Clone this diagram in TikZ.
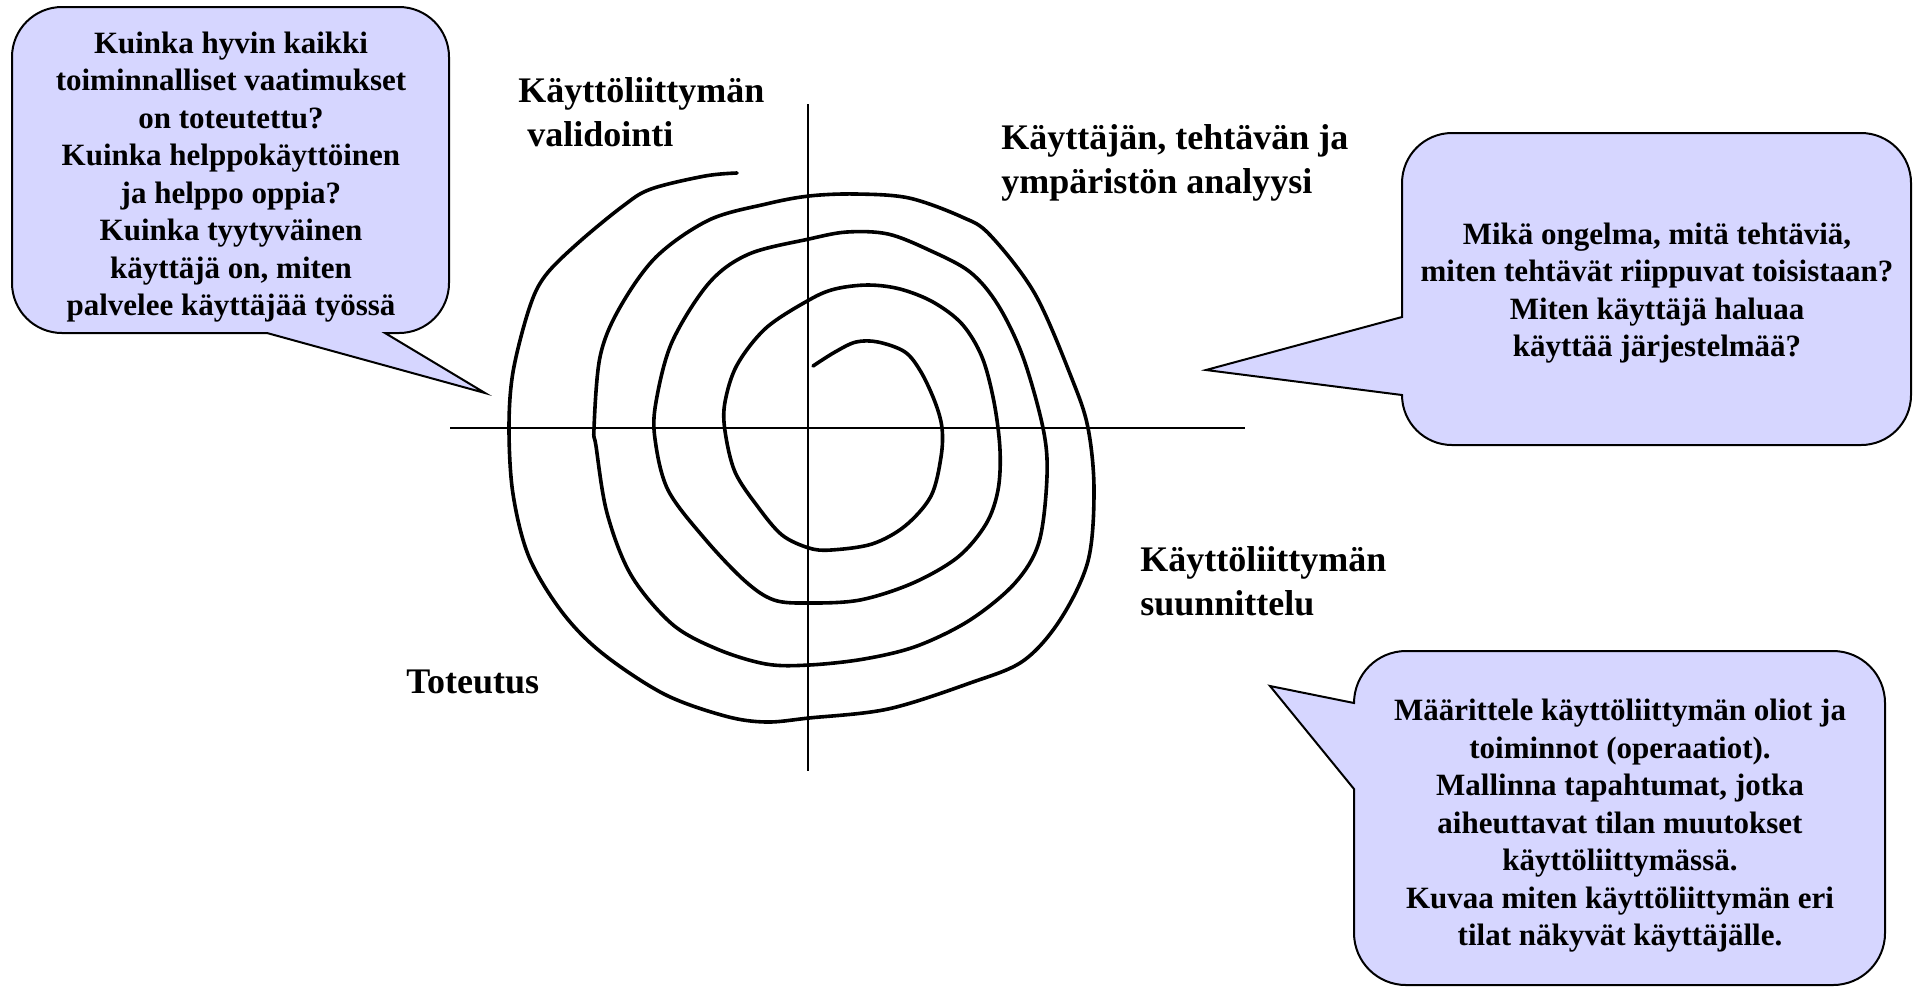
\documentclass[tikz,border=0pt]{standalone}
\usepackage{fontspec}
\setmainfont{Liberation Serif}
\usetikzlibrary{positioning}

\definecolor{bubblefill}{RGB}{214,214,255}

\begin{document}
\begin{tikzpicture}[x=0.5pt,y=-0.5pt,font=\bfseries]
    \tikzstyle{bubble}=[draw,fill=bubblefill,line width=1pt,line join=miter]
    \tikzstyle{asktext}=[align=center,inner sep=0pt,font=\bfseries\fontsize{15.5}{18.75}\selectfont]
    \tikzstyle{phase}=[align=left,inner sep=0pt,anchor=west,font=\bfseries\fontsize{18}{21.8}\selectfont]
    \tikzstyle{axis}=[line width=0.8pt]
    \tikzstyle{spiral}=[line width=1.8pt,line join=round,line cap=round]
    \useasboundingbox (0,0) rectangle (1914,987);
    \coordinate (n) at (808,104);
    \coordinate (s) at (808,771);
    \coordinate (w) at (450,428);
    \coordinate (e) at (1245,428);
    \draw [axis] (n) -- (s);
    \draw [axis] (w) -- (e);
    \draw [spiral] plot [smooth,tension=0.55] coordinates {
      (813,366) (835,352) (856,342) (878,342) (905,352) (921,372) (935,402) (942,428)
      (941,457) (931,496) (905,526) (872,544) (831,550) (809,548) (782,535) (758,507)
      (735,472) (725,431) (725,402) (737,365) (766,328) (809,300) (835,289) (868,285)
      (900,289) (933,302) (962,324) (982,357) (994,402) (1000,450) (998,490) (986,524)
      (958,557) (913,583) (860,600) (809,603) (774,600) (745,581) (705,539) (668,490)
      (655,439) (656,402) (672,342) (709,283) (749,254) (809,239) (847,232) (888,234)
      (929,250) (970,272) (998,305) (1023,357) (1043,428) (1047,476) (1039,542) (1015,583)
      (970,620) (917,646) (864,659) (809,665) (766,664) (717,649) (672,624) (631,575)
      (607,513) (596,446) (594,428) (600,357) (619,309) (656,257) (709,220) (766,204)
      (809,196) (856,194) (909,198) (962,217) (990,235) (1035,294) (1072,379) (1088,428)
      (1094,490) (1088,561) (1060,620) (1023,661) (970,683) (888,709) (809,718) (766,722)
      (725,716) (664,694) (602,653) (562,612) (529,557) (513,494) (509,428) (513,372)
      (529,309) (545,276) (578,243) (623,206) (651,189) (705,176) (737,173)};
    \filldraw [bubble] (62,7) -- (399,7) arc [start angle=270,end angle=360,radius=50]
      -- (449,283) arc [start angle=0,end angle=90,radius=50]
      -- (385,333) -- (485,393) -- (267,333)
      -- (62,333) arc [start angle=90,end angle=180,radius=50]
      -- (12,57) arc [start angle=180,end angle=270,radius=50] -- cycle;
    \filldraw [bubble] (1452,133) -- (1861,133) arc [start angle=270,end angle=360,radius=50]
      -- (1911,395) arc [start angle=0,end angle=90,radius=50]
      -- (1452,445) arc [start angle=90,end angle=180,radius=50]
      -- (1206,370) -- (1402,317)
      -- (1402,183) arc [start angle=180,end angle=270,radius=50] -- cycle;
    \filldraw [bubble] (1406,651) -- (1833,651) arc [start angle=270,end angle=360,radius=52]
      -- (1885,933) arc [start angle=0,end angle=90,radius=52]
      -- (1406,985) arc [start angle=90,end angle=180,radius=52]
      -- (1354,789) -- (1270,686) -- (1354,703)
      arc [start angle=180,end angle=270,radius=52] -- cycle;
    \node [asktext] (quality) at (231,177) {Kuinka hyvin kaikki\\toiminnalliset vaatimukset\\on toteutettu?\\Kuinka helppokäyttöinen\\ja helppo oppia?\\Kuinka tyytyväinen\\käyttäjä on, miten\\palvelee käyttäjää työssä};
    \node [asktext] (problem) at (1657,293) {Mikä ongelma, mitä tehtäviä,\\miten tehtävät riippuvat toisistaan?\\Miten käyttäjä haluaa\\käyttää järjestelmää?};
    \node [asktext] (model) at (1620,826) {Määrittele käyttöliittymän oliot ja\\toiminnot (operaatiot).\\Mallinna tapahtumat, jotka\\aiheuttavat tilan muutokset\\käyttöliittymässä.\\Kuvaa miten käyttöliittymän eri\\tilat näkyvät käyttäjälle.};
    \node [phase] (validate) at (518,112) {Käyttöliittymän\\\hspace*{4.5pt}validointi};
    \node [phase] (analyse) at (1001,163) {Käyttäjän, tehtävän ja\\ympäristön analyysi};
    \node [phase] (design) at (1140,581) {Käyttöliittymän\\suunnittelu};
    \node [phase] (build) at (406,682) {Toteutus};
  \end{tikzpicture}
\end{document}
